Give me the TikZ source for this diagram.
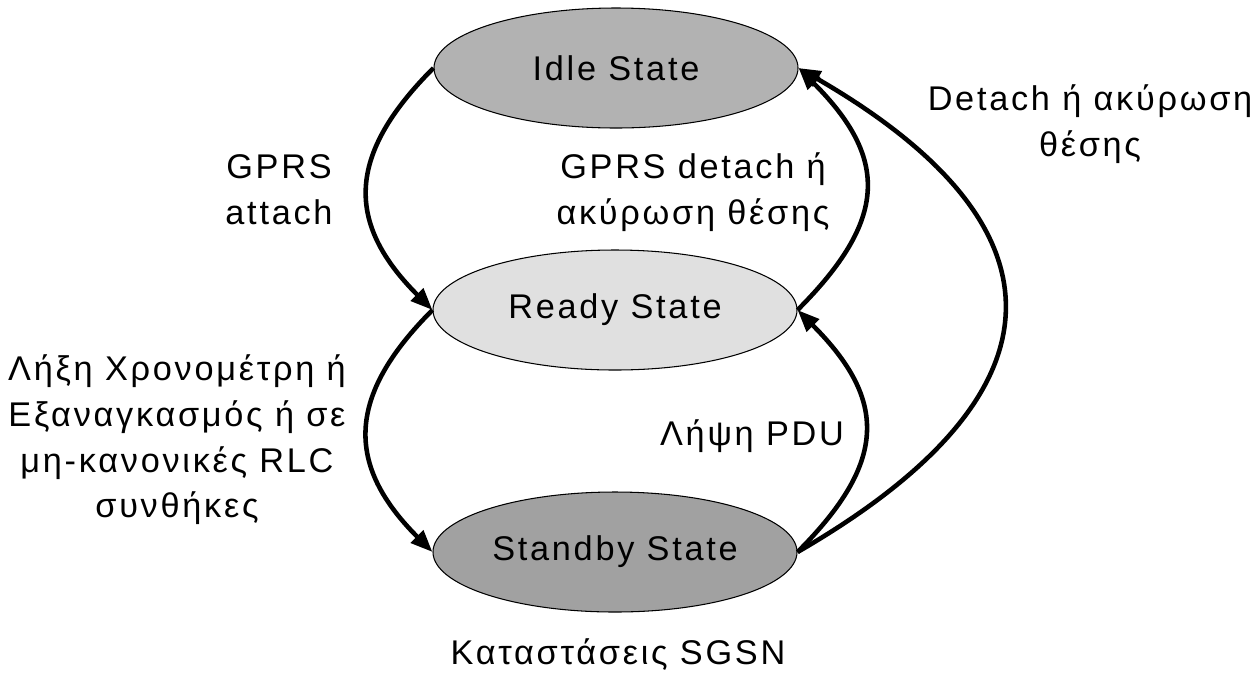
\documentclass[tikz,border=0pt]{standalone}
\usepackage{fontspec}
\setmainfont{Liberation Sans}[LetterSpace=8]
\usepackage{tikz}
\usetikzlibrary{shapes.geometric,arrows.meta}

\definecolor{idlegray}{gray}{0.70}
\definecolor{readygray}{gray}{0.88}
\definecolor{standbygray}{gray}{0.63}

\begin{document}
\begin{tikzpicture}[
  txt/.style={align=center,font=\fontsize{19.5}{26}\selectfont},
  state/.style={ellipse,draw,line width=0.6pt,minimum width=7.28cm,minimum height=2.4cm,inner sep=0pt,txt},
  trans/.style={line width=2.6pt,-{Triangle[length=0.44cm,width=0.34cm]}}
]
\useasboundingbox (0,0) rectangle (25.12,-13.70);
% States
\node[state,fill=idlegray] (idle) at (12.32,-1.36) {Idle State};
\node[state,fill=readygray] (ready) at (12.30,-6.20) {Ready State};
\node[state,fill=standbygray] (standby) at (12.30,-11.04) {Standby State};
% Transitions
\draw[trans] (idle.west) to[out=225,in=135,looseness=1.3] (ready.west);
\draw[trans] (ready.east) to[out=45,in=-45,looseness=1.35] (idle.east);
\draw[trans] (ready.west) to[out=225,in=135,looseness=1.3] (standby.west);
\draw[trans] (standby.east) to[out=45,in=-45,looseness=1.35] (ready.east);
\draw[trans] (standby.east) to[out=30,in=-30,looseness=1.67] (idle.east);
% Labels
\node[txt] (attach) at (5.58,-3.80) {GPRS\\attach};
\node[txt] (detach) at (13.86,-3.84) {GPRS detach ή\\ακύρωση θέσης};
\node[txt] (timer) at (3.54,-8.80) {Λήξη Χρονομέτρη ή\\Εξαναγκασμός ή σε\\μη-κανονικές RLC\\συνθήκες};
\node[txt] (pdu) at (15.04,-8.72) {Λήψη PDU};
\node[txt] (detachall) at (21.80,-2.48) {Detach ή ακύρωση\\θέσης};
\node[txt] (caption) at (12.36,-13.10) {Καταστάσεις SGSN};
\end{tikzpicture}
\end{document}
